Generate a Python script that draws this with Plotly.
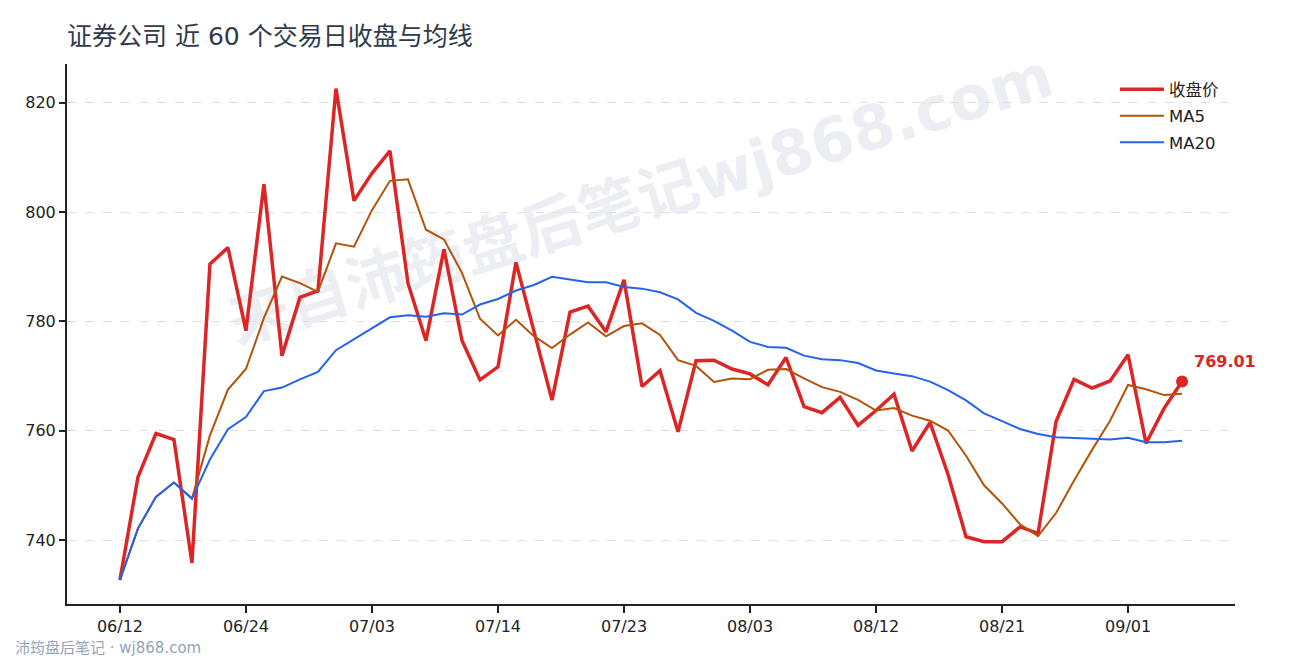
import plotly.graph_objects as go
import pandas as pd

# ---------------- data ----------------
dates = [
    "06/12", "06/15", "06/16", "06/17", "06/18", "06/22", "06/23", "06/24",
    "06/25", "06/26", "06/29", "06/30", "07/01", "07/02", "07/03",
    "07/06", "07/07", "07/08", "07/09", "07/10", "07/13", "07/14",
    "07/15", "07/16", "07/17", "07/20", "07/21", "07/22", "07/23",
    "07/24", "07/27", "07/28", "07/29", "07/30", "07/31", "08/03",
    "08/04", "08/05", "08/06", "08/07", "08/10", "08/11", "08/12",
    "08/13", "08/14", "08/17", "08/18", "08/19", "08/20", "08/21",
    "08/24", "08/25", "08/26", "08/27", "08/28", "08/31", "09/01",
    "09/02", "09/03", "09/04",
]
close = [
    732.7, 751.5, 759.5, 758.4, 735.8, 790.5, 793.5, 778.3, 805.1, 773.7,
    784.4, 785.6, 822.6, 802.1, 807.1, 811.2, 787.0, 776.5, 793.2, 776.5,
    769.3, 771.7, 790.8, 778.2, 765.6, 781.7, 782.8, 778.1, 787.6, 768.1,
    771.0, 759.8, 772.8, 772.9, 771.3, 770.4, 768.4, 773.4, 764.4, 763.3,
    766.1, 761.0, 763.7, 766.7, 756.3, 761.5, 752.0, 740.6, 739.7, 739.7,
    742.4, 741.2, 761.7, 769.4, 767.8, 769.1, 773.9, 757.7, 764.1, 769.01,
]
tick_labels = ["06/12", "06/24", "07/03", "07/14", "07/23", "08/03", "08/12", "08/21", "09/01"]
y_ticks = [740, 760, 780, 800, 820]

title_text = "证券公司 近 60 个交易日收盘与均线"
names = ["收盘价", "MA5", "MA20"]
watermark = "来自沛筠盘后笔记wj868.com"
footer = "沛筠盘后笔记 · wj868.com"

s = pd.Series(close)
ma5 = s.rolling(5, min_periods=1).mean().round(2).tolist()
ma20 = s.rolling(20, min_periods=1).mean().round(2).tolist()

FONT = "DejaVu Sans, Noto Sans CJK SC, sans-serif"
RED, BROWN, BLUE = "#dc2626", "#b45309", "#2563eb"
AXIS = "#222222"

fig = go.Figure()
fig.add_trace(go.Scatter(x=dates, y=close, name=names[0], mode="lines",
                         line=dict(color=RED, width=3.5), legendgroup="a"))
fig.add_trace(go.Scatter(x=dates, y=ma5, name=names[1], mode="lines",
                         line=dict(color=BROWN, width=2), legendgroup="b"))
fig.add_trace(go.Scatter(x=dates, y=ma20, name=names[2], mode="lines",
                         line=dict(color=BLUE, width=2), legendgroup="c"))
fig.add_trace(go.Scatter(x=[dates[-1]], y=[close[-1]], mode="markers",
                         marker=dict(color=RED, size=12), showlegend=False,
                         hoverinfo="skip"))

fig.add_annotation(x=dates[-1], y=close[-1], xref="x", yref="y",
                   text=f"<b>{close[-1]:.2f}</b>", showarrow=False,
                   xanchor="left", yanchor="bottom", xshift=10, yshift=9,
                   font=dict(family=FONT, size=16, color=RED))

fig.add_annotation(x=-0.0462, y=-0.0815, xref="paper", yref="paper",
                   text=footer, showarrow=False, xanchor="left", yanchor="middle",
                   font=dict(family=FONT, size=15, color="#94a3b8"))

fig.add_shape(type="rect", xref="paper", yref="paper",
              x0=0.39, x1=0.59, y0=0.706, y1=0.810, layer="below",
              line=dict(width=0), fillcolor="rgba(0,0,0,0)",
              label=dict(text=watermark, textangle=-17, textposition="middle center",
                         font=dict(family=FONT, size=61, color="rgba(40,60,120,0.085)",
                                   weight="bold")))

fig.update_layout(
    width=1290, height=660,
    margin=dict(l=59, r=63, t=56, b=64),
    paper_bgcolor="white", plot_bgcolor="white",
    font=dict(family=FONT, size=16, color=AXIS),
    title=dict(text=title_text, x=59 / 1290, xref="container", xanchor="left",
               y=1 - 28 / 660, yref="container", yanchor="middle",
               font=dict(family=FONT, size=25, color="#2f3a4a")),
    showlegend=True,
    legend=dict(x=0.8972, y=0.985, xanchor="left", yanchor="top",
                bgcolor="rgba(0,0,0,0)", tracegroupgap=2, itemwidth=44,
                font=dict(family=FONT, size=16.5, color=AXIS)),
    hovermode=False,
)
fig.update_xaxes(type="category", range=[-2.94, 61.94],
                 tickmode="array", tickvals=tick_labels, ticktext=tick_labels,
                 showgrid=False, zeroline=False,
                 showline=True, linecolor=AXIS, linewidth=2,
                 ticks="outside", ticklen=7, tickwidth=1.5, tickcolor=AXIS,
                 tickfont=dict(family=FONT, size=16, color=AXIS))
fig.update_yaxes(range=[728.3, 827.1], tickmode="array", tickvals=y_ticks,
                 showgrid=True, gridcolor="#e0e0e0", griddash="dash", gridwidth=1,
                 zeroline=False, showline=True, linecolor=AXIS, linewidth=2,
                 ticks="outside", ticklen=6, tickwidth=1.5, tickcolor=AXIS,
                 tickfont=dict(family=FONT, size=16, color=AXIS))

fig.write_html("out.html")
